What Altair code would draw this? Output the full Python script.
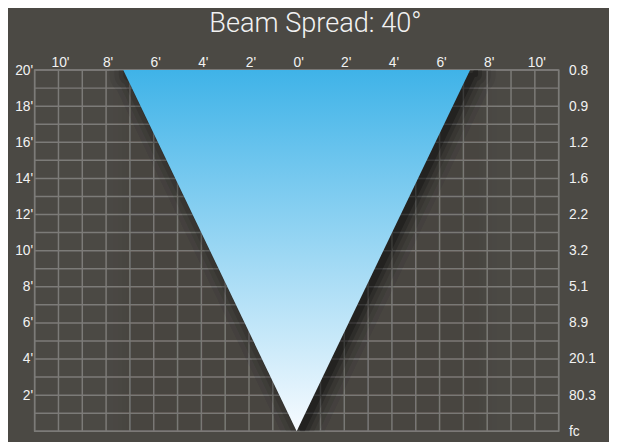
import json
import altair as alt
import pandas as pd

title_text = "Beam Spread: 40°"

# horizontal distance (feet) – top axis
x_tick_values = [-10, -8, -6, -4, -2, 0, 2, 4, 6, 8, 10]
x_tick_labels = ["10'", "8'", "6'", "4'", "2'", "0'", "2'", "4'", "6'", "8'", "10'"]
x_grid_values = list(range(-11, 12))

# height (feet) – left axis
height_values = [2, 4, 6, 8, 10, 12, 14, 16, 18, 20]
height_labels = ["2'", "4'", "6'", "8'", "10'", "12'", "14'", "16'", "18'", "20'"]
y_grid_values = list(range(0, 21))

# foot-candles – right axis
fc_values = [0, 2, 4, 6, 8, 10, 12, 14, 16, 18, 20]
fc_labels = ["fc", "80.3", "20.1", "8.9", "5.1", "3.2", "2.2", "1.6", "1.2", "0.9", "0.8"]

# beam cone (half-width at 20' for 40 deg spread = 7.28')
beam_x = [-7.28, 0.0, 7.28]
beam_top = [20, 20, 20]
beam_bottom = [20, 0, 20]

df = pd.DataFrame({"x": beam_x, "top": beam_top, "bottom": beam_bottom})
vgrid = pd.DataFrame({"gx": x_grid_values})
hgrid = pd.DataFrame({"gy": y_grid_values})
xlab = pd.DataFrame({"tx": x_tick_values, "label": x_tick_labels})


def label_expr(vals, labs):
    v = json.dumps(vals)
    l = json.dumps(labs)
    return f"indexof({v}, datum.value) >= 0 ? {l}[indexof({v}, datum.value)] : ''"


GRID = "#7c7b78"
BG = "#4b4944"
TXT = "#f2f2f2"
FONT = "Liberation Sans"

xs = alt.Scale(domain=[-11, 11], nice=False, zero=False)
ys = alt.Scale(domain=[0, 20], nice=False, zero=False)

vrules = alt.Chart(vgrid).mark_rule(color=GRID, strokeWidth=1.5).encode(
    x=alt.X("gx:Q", scale=xs, axis=None),
)
hrules = alt.Chart(hgrid).mark_rule(color=GRID, strokeWidth=1.5).encode(
    y=alt.Y(
        "gy:Q", scale=ys, title=None,
        axis=alt.Axis(
            orient="left", values=height_values, labelPadding=2, grid=False,
            labelExpr=label_expr(height_values, height_labels),
        ),
    ),
)

top_labels = alt.Chart(xlab).mark_text(
    color=TXT, font=FONT, fontSize=14, baseline="alphabetic", align="center", dx=2,
).encode(
    x=alt.X("tx:Q", scale=xs, axis=None),
    y=alt.value(-3),
    text="label:N",
)

base = alt.Chart(df)

shadow_layers = []
for w, op in [(40, 0.06), (30, 0.08), (21, 0.11), (12, 0.16), (4, 0.25)]:
    shadow_layers.append(
        base.mark_area(
            color="black", stroke="black", strokeWidth=w, strokeJoin="round",
            opacity=op, xOffset=6, yOffset=5, clip=True,
        ).encode(
            x=alt.X("x:Q", scale=xs, axis=None),
            y=alt.Y("top:Q", scale=ys, axis=None),
            y2="bottom:Q",
        )
    )

gradient = alt.Gradient(
    gradient="linear",
    stops=[
        alt.GradientStop(offset=0, color="#3fb3e8"),
        alt.GradientStop(offset=1, color="#f7fbff"),
    ],
    x1=0, x2=0, y1=0, y2=1,
)

beam = base.mark_area(color=gradient, clip=True).encode(
    x=alt.X("x:Q", scale=xs, axis=None),
    y=alt.Y("top:Q", scale=ys, axis=None),
    y2="bottom:Q",
)

right_axis = base.mark_area(opacity=0).encode(
    x=alt.X("x:Q", scale=xs, axis=None),
    y=alt.Y(
        "top:Q", scale=ys, title=None,
        axis=alt.Axis(
            orient="right", values=fc_values, grid=False, labelPadding=10,
            labelAlign="left",
            labelExpr=label_expr(fc_values, fc_labels),
        ),
    ),
    y2="bottom:Q",
)

chart = (
    alt.layer(vrules, hrules, *shadow_layers, beam, right_axis, top_labels)
    .resolve_scale(y="shared", x="shared")
    .resolve_axis(y="independent")
    .properties(
        width=531,
        height=366,
        autosize=alt.AutoSizeParams(type="none"),
        padding={"left": 27, "top": 60, "right": 51, "bottom": 8},
        background=BG,
        title=alt.TitleParams(
            text=title_text, font="Roboto", fontWeight=300, fontSize=27.5,
            color=TXT, anchor="middle", frame="group", dx=19, dy=-15,
        ),
    )
    .configure_view(stroke=GRID, strokeWidth=1.5)
    .configure_axis(
        domain=False, ticks=False,
        labelColor=TXT, labelFont=FONT, labelFontSize=14,
    )
)

chart.save("out.html", embed_options={"renderer": "svg", "actions": False})
